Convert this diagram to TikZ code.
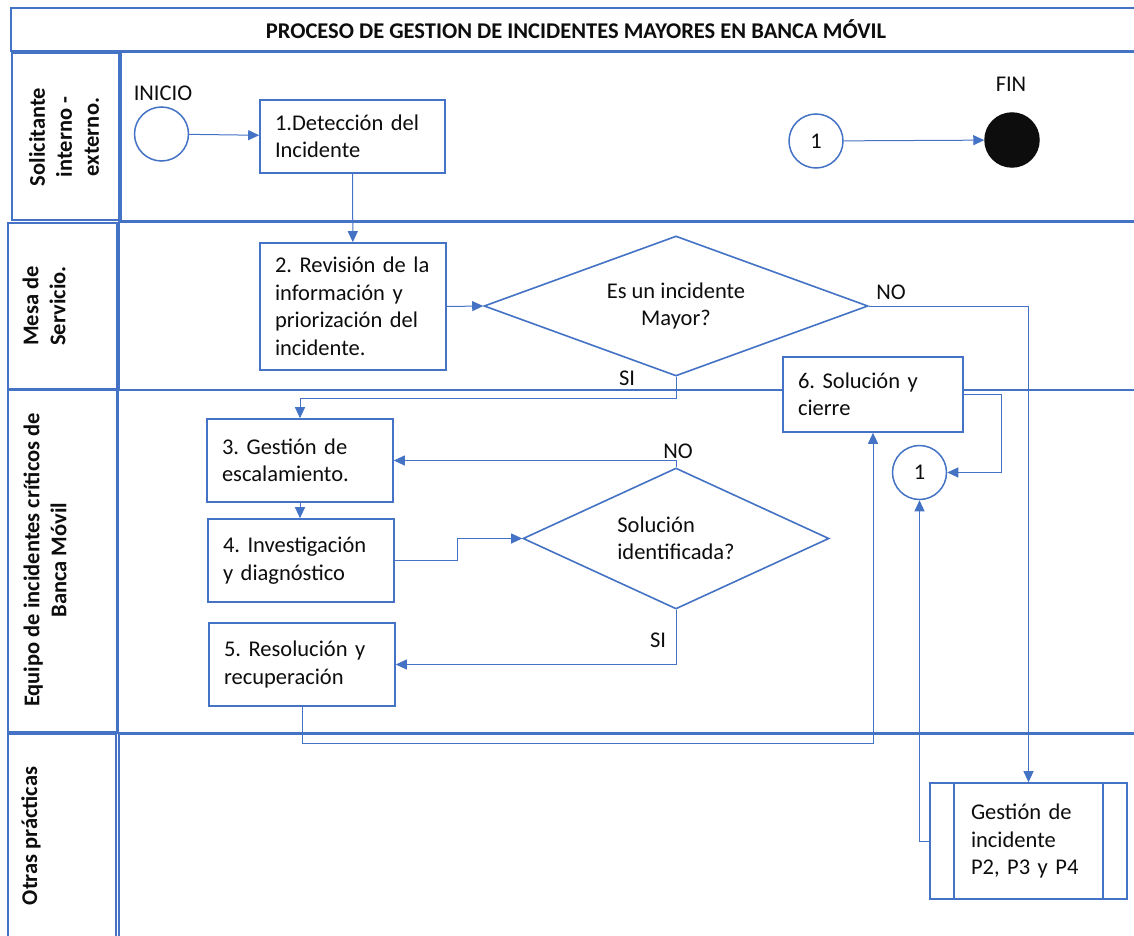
\documentclass[tikz,border=0pt]{standalone}
\usepackage{fontspec}
\setmainfont{Carlito}
\usetikzlibrary{shapes.geometric,arrows.meta}
\definecolor{lblue}{HTML}{4472C4}
\definecolor{ink}{HTML}{0D0D0D}
\frenchspacing
\newcommand\txtbody{\fontsize{22.5}{27.5}\selectfont}
\newcommand\txtlane{\fontsize{22.5}{27}\selectfont\bfseries}

\begin{document}
\begin{tikzpicture}[x=1pt,y=-1pt,
  lane/.style={draw=lblue,line width=1.8pt},
  box/.style={draw=lblue,line width=1.6pt,fill=white,text=ink,align=left,
    inner xsep=15pt,inner ysep=0pt,font=\txtbody},
  dia/.style={diamond,draw=lblue,line width=1.6pt,fill=white,text=ink,
    inner sep=0pt,aspect=2,font=\txtbody},
  circ/.style={circle,draw=lblue,line width=1.5pt,fill=white,text=ink,
    minimum size=54pt,inner sep=0pt,font=\txtbody},
  lbl/.style={text=ink,font=\txtbody,inner sep=0pt},
  lanetxt/.style={text=ink,font=\txtlane,align=center,rotate=90,inner sep=0pt},
  conn/.style={draw=lblue,line width=1pt,-{Triangle[length=11pt,width=10pt]}}]

\useasboundingbox (0,0) rectangle (1134,936);
\clip (0,0) rectangle (1134,936);

% title bar
\draw[lane] (11,8) rectangle (1150,51);
\node[text=ink,font=\txtlane] (title) at (576,29.5)
  {PROCESO DE GESTION DE INCIDENTES MAYORES EN BANCA MÓVIL};

% swimlanes: header cell and content cell
\draw[lane] (12,53) rectangle (119,220);
\draw[lane] (121,52) rectangle (1150,221);
\draw[lane] (8,223) rectangle (117,389);
\draw[lane] (119,222) rectangle (1150,390);
\draw[lane] (8,390) rectangle (117,732);
\draw[lane] (118,390) rectangle (1150,733);
\draw[lane] (8,734) rectangle (116,950);
\draw[lane] (119,734) rectangle (1150,950);

\node[lanetxt] (l1) at (64,137) {Solicitante\\interno -\\externo.};
\node[lanetxt] (l2) at (44,306) {Mesa de\\Servicio.};
\node[lanetxt] (l3) at (45,560) {Equipo de incidentes críticos de\\Banca Móvil};
\node[lanetxt] (l4) at (31,836) {Otras prácticas};

% events and connectors
\node[circ] (start) at (161.5,134) {};
\node[lbl] (tstart) at (163,93) {INICIO};
\node[circ] (c1t) at (816,141) {1};
\node[circ,fill=ink,draw=ink] (fin) at (1012,140) {};
\node[lbl] (tfin) at (1011,84) {FIN};
\node[circ] (c1m) at (919.5,472.5) {1};

% activities
\node[box,text width=155pt,minimum height=73pt] (b1) at (352.5,136.5)
  {1.Detección del\\Incidente};
\node[box,text width=156pt,minimum height=127pt] (b2) at (353,306.5)
  {2. Revisión de la\\información y\\priorización del\\incidente.};
\node[box,text width=156pt,minimum height=83pt] (b3) at (300,460.5)
  {3. Gestión de\\escalamiento.};
\node[box,text width=156pt,minimum height=83pt] (b4) at (301,560.5)
  {4. Investigación\\y diagnóstico};
\node[box,text width=156pt,minimum height=83pt] (b5) at (302,664.5)
  {5. Resolución y\\recuperación};
\node[box,text width=150pt,minimum height=75pt] (b6) at (873,394.5)
  {6. Solución y\\cierre};
\node[box,text width=115pt,inner xsep=41pt,minimum height=116pt] (g) at (1028.5,841)
  {Gestión de\\incidente\\P2, P3 y P4};
\draw[draw=lblue,line width=1.6pt] ([xshift=25pt]g.north west) -- ([xshift=25pt]g.south west);
\draw[draw=lblue,line width=1.6pt] ([xshift=-25pt]g.north east) -- ([xshift=-25pt]g.south east);

% decisions
\node[dia,minimum width=384pt,minimum height=140pt,align=center] (d1) at (676,306)
  {Es un incidente\\Mayor?};
\node[dia,minimum width=306pt,minimum height=141pt,align=left] (d2) at (676,538.5)
  {Solución\\identificada?};

% branch labels
\node[lbl] (no1) at (891,292) {NO};
\node[lbl] (si1) at (627,378) {SI};
\node[lbl] (no2) at (678,451) {NO};
\node[lbl] (si2) at (658,640) {SI};

% flow
\draw[conn] (start) -- (b1);
\draw[conn] (b1) -- (b2);
\draw[conn] (b2.east) -- (d1.west);
\draw[conn] (d1.east) -| (g.north);
\draw[conn] (d1.south) -- ++(0,22) -| (b3.north);
\draw[conn] (b3.south) -- (b3.south |- b4.north);
\draw[conn] (b4.east) -- ++(63,0) |- (d2.west);
\draw[conn] (d2.north) |- (b3.east);
\draw[conn] (d2.south) |- (b5.east);
\draw[conn] (b5.south) -- ++(0,37) -| (b6.south);
\draw[conn] (b6.east) -- ++(38,0) |- (c1m.east);
\draw[conn] (g.west) -| (c1m.south);
\draw[conn] (c1t) -- (fin);

\end{tikzpicture}
\end{document}
